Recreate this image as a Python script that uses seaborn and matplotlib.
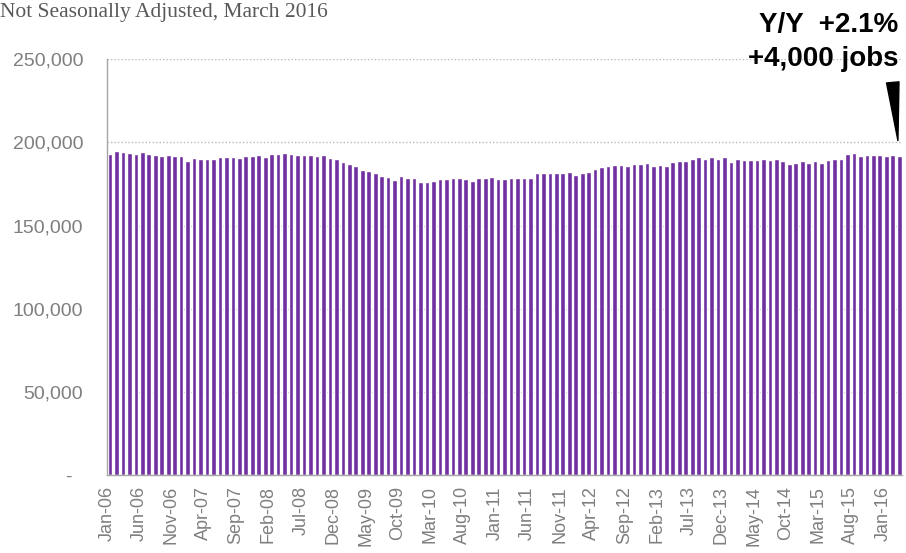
import pandas as pd
import numpy as np
import seaborn as sns
import matplotlib.pyplot as plt

# monthly jobs, not seasonally adjusted
months = pd.date_range("2006-01-01", periods=123, freq="MS").strftime("%b-%y").tolist()
jobs = [
    192800, 194800, 194200, 193800, 193200, 194000, 192800, 192200, 191600, 192200, 192000, 191600,  # 2006
    188800, 190600, 189800, 189800, 189800, 191000, 191200, 191200, 190400, 191600, 191600, 192200,  # 2007
    191400, 193000, 193000, 193400, 193000, 192400, 192400, 192200, 192000, 192200, 190600, 189800,  # 2008
    188000, 187000, 185800, 183400, 183000, 181600, 179800, 179200, 177600, 179800, 178400, 178800,  # 2009
    176200, 176400, 177000, 177800, 178000, 178400, 178400, 178000, 177000, 178400, 178400, 179400,  # 2010
    177800, 178000, 178600, 178800, 178800, 178600, 181600, 181800, 181400, 181600, 181800, 182200,  # 2011
    180400, 181400, 182200, 184200, 185200, 185800, 186400, 186400, 186000, 186800, 186800, 187800,  # 2012
    185600, 186400, 186000, 188000, 188600, 188800, 190000, 191000, 190200, 191000, 190200, 191000,  # 2013
    188400, 189800, 189200, 189200, 189200, 189800, 189600, 189800, 188600, 187000, 187800, 189000,  # 2014
    187800, 188800, 187600, 189600, 189800, 189800, 192800, 193400, 192000, 192600, 192200, 192200,  # 2015
    191800, 192200, 191600,  # 2016
]
yticks = [0, 50000, 100000, 150000, 200000, 250000]
ytick_labels = ["-  ", "50,000", "100,000", "150,000", "200,000", "250,000"]

df = pd.DataFrame({"month": months, "jobs": jobs})

sns.set_style("white")
plt.rcParams["font.family"] = ["Liberation Sans", "DejaVu Sans"]

fig = plt.figure(figsize=(9.06, 5.53), dpi=100)
ax = fig.add_axes([0.1178, 0.141, 0.8783, 0.7518])

ax.grid(False)
for yv in yticks[1:]:
    ax.axhline(yv, color="#b8b8b8", lw=1.0, ls=(0, (1, 1.5)), zorder=0)

sns.barplot(data=df, x="month", y="jobs", color="#7030A0", saturation=1,
            width=0.72, ax=ax, zorder=2)

n = len(months)
ax.set_xlim(-0.5, n - 0.5)
ax.set_ylim(0, 250000)
tick_idx = list(range(0, n, 5))
ax.set_xticks([i - 0.5 for i in tick_idx])
ax.set_xticklabels([months[i] for i in tick_idx], rotation=90, fontsize=13, color="#7f7f7f")
ax.set_yticks(yticks)
ax.set_yticklabels(ytick_labels, fontsize=14, color="#7f7f7f")
ax.tick_params(axis="both", length=4, width=1, color="#a6a6a6", direction="out")
ax.tick_params(axis="x", pad=4)
ax.tick_params(axis="y", pad=13)
ax.set_xlabel("")
ax.set_ylabel("")

for s in ["top", "right"]:
    ax.spines[s].set_visible(False)
for s in ["left", "bottom"]:
    ax.spines[s].set_color("#a6a6a6")
    ax.spines[s].set_linewidth(1)

# header text
fig.text(0.0, 0.969, "Not Seasonally Adjusted, March 2016", family="Liberation Serif",
         fontsize=15.5, color="#595959", ha="left", va="baseline")
fig.text(0.9915, 0.942, "Y/Y  +2.1%", fontsize=20, fontweight="bold", color="black",
         ha="right", va="baseline")
fig.text(0.9915, 0.880, "+4,000 jobs", fontsize=20, fontweight="bold", color="black",
         ha="right", va="baseline")

# wedge pointing at the latest month
ax.annotate("", xy=(n - 1.2, jobs[-1] + 9500), xytext=(n - 2.0, jobs[-1] + 44500),
            arrowprops=dict(arrowstyle="wedge,tail_width=0.9", mutation_scale=10,
                            color="black", shrinkA=0, shrinkB=0),
            annotation_clip=False)

fig.savefig("out.png", dpi=100)
